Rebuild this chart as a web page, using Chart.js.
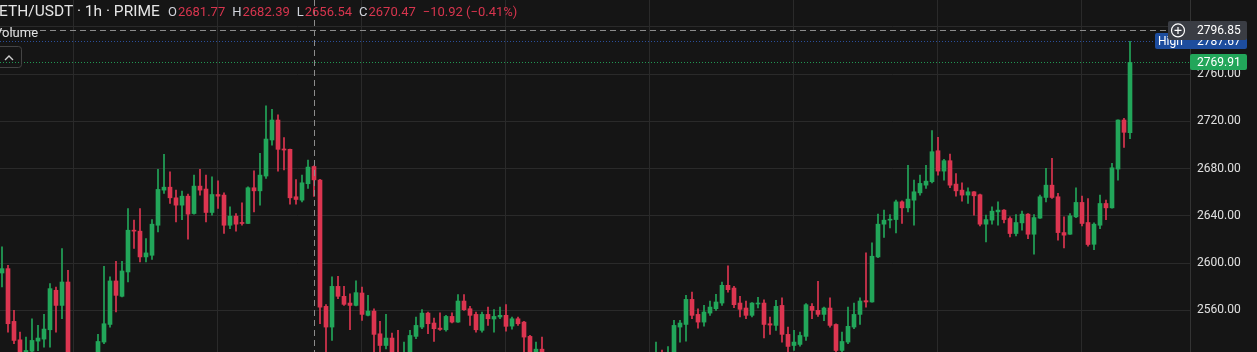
<!DOCTYPE html>
<html>
<head>
<meta charset="utf-8">
<script src="https://cdn.jsdelivr.net/npm/chart.js@4"></script>
<style>
  html, body { margin: 0; padding: 0; background: #151515; overflow: hidden; }
  canvas { display: block; }
</style>
</head>
<body>
<canvas id="c" width="1257" height="352"></canvas>
<script>
// ETH/USDT 1h candles (values below ~2525 are off-screen)
const opens = [
  2591.7, 2595.4, 2550.8, 2535.2, 2520, 2525.6, 2534.1, 2535.8, 2543.7, 2577.1,
  2564.3, 2584.1, 2515, 2506, 2510, 2505, 2514, 2533.3, 2548.2, 2585.0,
  2572.0, 2592.6, 2627.9, 2627.1, 2605.3, 2606.7, 2632.1, 2661.8, 2664.3, 2655.3,
  2649.1, 2656.7, 2642.0, 2665.2, 2662.7, 2642.9, 2658.1, 2657.6, 2632.1, 2639.8,
  2634.4, 2633.6, 2663.8, 2661.2, 2673.7, 2704.2, 2721.1, 2696.6, 2696.3, 2656.2,
  2653.3, 2667.2, 2681.77, 2670.3, 2563.5, 2546.0, 2580.4, 2572.0, 2566.3, 2564.3,
  2574.8, 2555.9, 2559.5, 2540.3, 2530.4, 2536.7, 2521, 2512, 2520, 2538.1,
  2546.0, 2557.8, 2549.4, 2545.1, 2543.7, 2555.0, 2550.2, 2568.0, 2561.5, 2556.7,
  2543.2, 2556.7, 2552.8, 2554.5, 2555.9, 2546.8, 2553.0, 2550.2, 2538.1, 2520,
  2527.3, 2522, 2513, 2506, 2510, 2499, 2504, 2509, 2503, 2493,
  2497, 2502, 2498, 2491, 2495, 2501, 2506, 2511, 2508, 2512,
  2520, 2514, 2518, 2546.0, 2548.2, 2569.4, 2556.7, 2550.2, 2557.8, 2561.5,
  2566.3, 2581.3, 2579.0, 2566.3, 2562.1, 2555.9, 2565.5, 2566.3, 2548.8, 2547.4,
  2564.3, 2539.8, 2530.4, 2531.3, 2538.1, 2563.5, 2560.1, 2556.7, 2562.1, 2548.2,
  2526.2, 2533.3, 2546.0, 2556.7, 2568.3, 2567.2, 2605.3, 2633.0, 2636.4, 2636.9,
  2651.9, 2646.8, 2653.3, 2659.5, 2666.0, 2668.9, 2695.1, 2677.9, 2686.7, 2666.9,
  2661.8, 2657.6, 2660.4, 2657.9, 2633.0, 2636.4, 2643.4, 2644.9, 2637.8, 2625.1,
  2634.1, 2641.5, 2624.5, 2638.1, 2655.6, 2666.0, 2656.2, 2625.9, 2624.5, 2639.2,
  2651.4, 2634.4, 2616.0, 2632.1, 2650.5, 2646.8, 2679.6, 2721.1, 2710.4
];
const highs = [
  2613.8, 2598.2, 2560.1, 2541.7, 2537.5, 2553.0, 2547.4, 2556.7, 2582.7, 2579.9,
  2612.4, 2594.0, 2521, 2514, 2519, 2518, 2539.8, 2597.4, 2588.4, 2601.6,
  2601.6, 2646.3, 2636.4, 2646.3, 2620.8, 2636.9, 2679.3, 2692.0, 2677.3, 2661.8,
  2661.0, 2658.4, 2674.5, 2679.3, 2674.5, 2673.1, 2669.7, 2659.5, 2647.7, 2642.0,
  2651.1, 2664.6, 2678.2, 2692.9, 2733.0, 2730.2, 2725.4, 2706.2, 2696.5, 2670.8,
  2674.5, 2687.2, 2682.39, 2671.0, 2564.9, 2588.4, 2588.9, 2580.4, 2574.2, 2585.0,
  2579.9, 2572.8, 2561.5, 2550.8, 2556.7, 2540.9, 2543.2, 2533.3, 2543.2, 2554.5,
  2560.7, 2558.7, 2553.6, 2558.1, 2555.9, 2558.1, 2573.4, 2573.4, 2563.5, 2558.7,
  2558.7, 2562.9, 2560.7, 2562.9, 2564.9, 2554.5, 2554.5, 2550.8, 2539, 2533.3,
  2537.5, 2524, 2518, 2514, 2516, 2508, 2512, 2515, 2507, 2501,
  2506, 2511, 2504, 2499, 2505, 2510, 2515, 2518, 2517, 2533.3,
  2526.6, 2529.5, 2551.6, 2551.6, 2572.8, 2575.6, 2561.5, 2564.3, 2568.0, 2573.7,
  2584.1, 2597.7, 2580.4, 2572.0, 2568.0, 2566.6, 2571.1, 2569.1, 2554.5, 2568.5,
  2570.8, 2546.0, 2543.2, 2541.7, 2565.8, 2565.8, 2584.7, 2562.9, 2570.8, 2548.8,
  2541.7, 2562.9, 2566.3, 2570.8, 2608.7, 2617.2, 2641.5, 2644.9, 2641.2, 2653.3,
  2652.8, 2682.7, 2670.3, 2674.5, 2682.7, 2712.1, 2706.4, 2687.8, 2692.3, 2675.9,
  2668.0, 2663.8, 2660.5, 2658.4, 2640.6, 2647.7, 2651.9, 2645.4, 2639.2, 2641.2,
  2644.0, 2642.0, 2641.2, 2657.6, 2680.2, 2688.6, 2659.0, 2639.2, 2642.0, 2663.8,
  2656.7, 2654.7, 2634.1, 2657.6, 2653.3, 2684.4, 2721.3, 2722.5, 2787.67
];
const lows = [
  2579.9, 2541.7, 2531.9, 2515, 2512, 2521, 2526, 2529.0, 2529.0, 2541.7,
  2553.0, 2508, 2500, 2496, 2502, 2499, 2508, 2531.9, 2546.0, 2558.7,
  2571.5, 2584.1, 2612.4, 2601.1, 2601.1, 2603.3, 2626.5, 2659.0, 2650.5, 2635.0,
  2636.9, 2620.3, 2641.5, 2657.6, 2635.0, 2640.6, 2646.3, 2625.1, 2629.3, 2627.1,
  2632.1, 2633.4, 2643.4, 2649.1, 2671.7, 2699.9, 2677.9, 2678.8, 2649.9, 2649.9,
  2651.9, 2663.2, 2656.54, 2548.8, 2522, 2534.7, 2570.0, 2564.3, 2543.7, 2563.8,
  2551.6, 2555.5, 2522, 2522, 2527.6, 2515, 2506, 2508, 2516, 2536.1,
  2544.6, 2540.3, 2533.8, 2543.2, 2542.6, 2549.4, 2549.9, 2560.1, 2547.4, 2541.7,
  2541.7, 2547.4, 2541.7, 2553.0, 2542.6, 2544.3, 2547.4, 2522, 2515, 2516,
  2518, 2510, 2502, 2498, 2496, 2490, 2497, 2500, 2488, 2484,
  2491, 2495, 2486, 2482, 2490, 2496, 2500, 2504, 2502, 2508,
  2510, 2510, 2514, 2533.3, 2534.1, 2553.0, 2545.1, 2546.8, 2555.9, 2560.1,
  2564.3, 2575.6, 2562.3, 2554.5, 2553.0, 2554.5, 2562.1, 2536.9, 2539.8, 2543.2,
  2533.3, 2522, 2526.2, 2529.9, 2534.7, 2553.0, 2555.0, 2551.3, 2546.0, 2522,
  2523, 2531.9, 2544.6, 2548.2, 2562.9, 2567.0, 2604.7, 2621.7, 2629.9, 2625.6,
  2633.6, 2643.4, 2632.1, 2657.6, 2663.2, 2668.0, 2674.5, 2670.3, 2663.8, 2656.7,
  2652.5, 2650.5, 2640.6, 2631.6, 2618.0, 2633.0, 2632.1, 2634.1, 2622.3, 2623.1,
  2627.9, 2620.8, 2607.6, 2637.8, 2651.9, 2654.7, 2619.4, 2612.9, 2624.3, 2638.6,
  2631.6, 2614.3, 2611.5, 2629.3, 2636.9, 2646.6, 2670.3, 2698.0, 2705.3
];
const closes = [
  2595.4, 2548.8, 2534.7, 2522, 2526.2, 2534.7, 2536.7, 2544.3, 2578.5, 2564.3,
  2584.1, 2515, 2506, 2510, 2505, 2514, 2533.8, 2548.8, 2585.0, 2572.8,
  2593.4, 2627.9, 2627.1, 2605.3, 2608.7, 2633.0, 2662.4, 2664.3, 2655.3, 2649.1,
  2656.7, 2641.5, 2665.2, 2661.8, 2642.9, 2658.1, 2656.7, 2632.1, 2639.8, 2633.0,
  2633.6, 2663.8, 2661.2, 2674.5, 2705.0, 2721.1, 2696.3, 2695.7, 2655.3, 2653.9,
  2668.0, 2681.3, 2670.47, 2562.9, 2546.0, 2580.4, 2572.0, 2565.2, 2564.3, 2575.1,
  2556.7, 2559.5, 2539.8, 2530.4, 2536.7, 2520, 2512, 2520, 2538.9, 2547.4,
  2557.8, 2548.8, 2544.6, 2544.0, 2555.0, 2550.2, 2568.0, 2560.7, 2555.9, 2543.7,
  2556.7, 2553.0, 2555.0, 2555.9, 2546.6, 2553.0, 2548.8, 2537.5, 2521, 2527.3,
  2522, 2513, 2506, 2510, 2499, 2504, 2509, 2503, 2493, 2497,
  2502, 2498, 2491, 2495, 2501, 2506, 2511, 2508, 2514, 2520,
  2514, 2521, 2547.4, 2549.4, 2569.4, 2555.9, 2550.2, 2558.7, 2562.9, 2567.2,
  2581.3, 2577.6, 2564.9, 2561.0, 2555.9, 2566.3, 2566.3, 2548.2, 2547.7, 2563.5,
  2539.8, 2529.6, 2533.3, 2538.9, 2564.9, 2560.1, 2556.7, 2562.1, 2547.4, 2526.2,
  2533.8, 2546.6, 2556.7, 2568.0, 2567.2, 2605.9, 2633.0, 2636.4, 2637.2, 2651.9,
  2646.8, 2654.2, 2660.4, 2667.5, 2669.4, 2694.3, 2677.9, 2686.7, 2666.0, 2661.2,
  2657.6, 2660.4, 2657.0, 2633.0, 2636.9, 2644.0, 2644.9, 2636.9, 2625.1, 2634.4,
  2641.5, 2624.5, 2638.6, 2656.2, 2666.0, 2655.6, 2625.9, 2623.7, 2640.1, 2651.4,
  2633.6, 2615.8, 2633.0, 2650.5, 2646.8, 2680.7, 2721.1, 2710.7, 2769.91
];

const priceTicks = [2560, 2600, 2640, 2680, 2720, 2760, 2800];
const dayStarts = [12, 36, 60, 84, 108, 132, 156, 180];   // candle index of each vertical grid line

const crossIndex = 52;        // hovered candle (O/H/L/C shown in header)
const crossPrice = 2796.85;
const changeText = '\u221210.92 (\u22120.41%)';
const highMark = 2787.67;
const lastPrice = 2769.91;

const UP = '#22a65a';
const DOWN = '#dc3550';
const BG = '#151515';
const GRID = '#2a2a2a';
const FONT = 'Roboto, "Noto Sans", sans-serif';

const idx = opens.map((_, i) => i);
const colorOf = c => closes[c.dataIndex] >= opens[c.dataIndex] ? UP : DOWN;

function fmt(v) { return v.toFixed(2); }

const background = {
  id: 'background',
  beforeDraw(chart) {
    const ctx = chart.ctx;
    ctx.save();
    ctx.fillStyle = BG;
    ctx.fillRect(0, 0, chart.width, chart.height);
    ctx.restore();
  }
};

function hline(ctx, y, x0, x1, color, dash) {
  ctx.beginPath();
  ctx.setLineDash(dash);
  ctx.strokeStyle = color;
  ctx.lineWidth = 1;
  y = Math.round(y) + 0.5;
  ctx.moveTo(x0, y);
  ctx.lineTo(x1, y);
  ctx.stroke();
}

function box(ctx, x0, x1, yc, h, color) {
  ctx.fillStyle = color;
  ctx.beginPath();
  ctx.roundRect(x0, Math.round(yc - h / 2), x1 - x0, h, 2);
  ctx.fill();
}

const overlay = {
  id: 'overlay',
  afterDraw(chart) {
    const { ctx, chartArea: a, scales: { x, y } } = chart;
    ctx.save();

    // price lines
    hline(ctx, y.getPixelForValue(lastPrice), 0, a.right, 'rgba(34,166,90,0.9)', [1, 2]);
    hline(ctx, y.getPixelForValue(highMark), 0, 1155, 'rgba(45,85,170,0.9)', [1, 2]);

    // crosshair
    const cx = Math.round(x.getPixelForValue(crossIndex)) + 0.5;
    ctx.beginPath();
    ctx.setLineDash([6, 4]);
    ctx.strokeStyle = '#8c8c8c';
    ctx.moveTo(cx, 0);
    ctx.lineTo(cx, chart.height);
    ctx.stroke();
    hline(ctx, y.getPixelForValue(crossPrice), 0, 1168, '#8c8c8c', [6, 4]);
    ctx.setLineDash([]);

    // right side labels
    ctx.font = '12px ' + FONT;
    ctx.textBaseline = 'middle';
    const yh = y.getPixelForValue(highMark);
    box(ctx, 1155, 1247, yh, 16, '#1d4d9e');
    ctx.fillStyle = '#ffffff';
    ctx.fillText('High', 1158, yh + 1);
    ctx.fillText(fmt(highMark), 1197, yh + 1);

    const yc = y.getPixelForValue(crossPrice);
    box(ctx, 1168, 1247, yc, 19, '#3a3d44');
    ctx.fillStyle = '#ffffff';
    ctx.fillText(fmt(crossPrice), 1197, yc + 1);
    ctx.beginPath();
    ctx.strokeStyle = '#ffffff';
    ctx.lineWidth = 1.2;
    ctx.arc(1178, yc, 6.5, 0, Math.PI * 2);
    ctx.moveTo(1174.5, yc); ctx.lineTo(1181.5, yc);
    ctx.moveTo(1178, yc - 3.5); ctx.lineTo(1178, yc + 3.5);
    ctx.stroke();

    const yl = y.getPixelForValue(lastPrice);
    box(ctx, 1190, 1247, yl, 16, UP);
    ctx.fillStyle = '#ffffff';
    ctx.fillText(fmt(lastPrice), 1197, yl + 1);

    // header
    ctx.textBaseline = 'alphabetic';
    ctx.font = '15.5px ' + FONT;
    ctx.fillStyle = '#e6e6e6';
    ctx.fillText('ETH/USDT \u00b7 1h \u00b7 PRIME', -1, 16);

    ctx.font = '13px ' + FONT;
    const parts = [
      ['O', fmt(opens[crossIndex])], ['H', fmt(highs[crossIndex])],
      ['L', fmt(lows[crossIndex])], ['C', fmt(closes[crossIndex])], ['', changeText]
    ];
    let tx = 168;
    parts.forEach(([k, v]) => {
      if (k) {
        ctx.fillStyle = '#d1d4dc';
        ctx.fillText(k, tx, 16);
        tx += ctx.measureText(k).width + 1;
      }
      ctx.fillStyle = '#d7354e';
      ctx.fillText(v, tx, 16);
      tx += ctx.measureText(v).width + 7;
    });

    ctx.fillStyle = '#e0e0e0';
    ctx.fillText('Volume', -6, 37);

    ctx.beginPath();
    ctx.strokeStyle = '#444444';
    ctx.lineWidth = 1;
    ctx.roundRect(-6.5, 46.5, 28, 21, 3);
    ctx.stroke();
    ctx.beginPath();
    ctx.strokeStyle = '#d0d0d0';
    ctx.lineWidth = 1.4;
    ctx.moveTo(5, 60); ctx.lineTo(9, 56); ctx.lineTo(13, 60);
    ctx.stroke();

    ctx.restore();
  }
};

new Chart(document.getElementById('c'), {
  type: 'bar',
  data: {
    datasets: [
      {
        label: 'wick',
        data: idx.map(i => ({ x: i, y: [lows[i], highs[i]] })),
        backgroundColor: colorOf,
        barThickness: 1,
        minBarLength: 1,
        grouped: false,
        order: 2
      },
      {
        label: 'body',
        data: idx.map(i => ({ x: i, y: [opens[i], closes[i]] })),
        backgroundColor: colorOf,
        barThickness: 4,
        minBarLength: 1,
        grouped: false,
        order: 1
      }
    ]
  },
  options: {
    responsive: false,
    animation: false,
    layout: { padding: 0, autoPadding: false },
    plugins: { legend: { display: false }, tooltip: { enabled: false } },
    scales: {
      x: {
        type: 'linear',
        offset: false,
        min: -0.333,
        max: 198,
        afterBuildTicks: s => { s.ticks = dayStarts.map(v => ({ value: v })); },
        afterFit: s => { s.height = 0; s.paddingLeft = 0; s.paddingRight = 0; },
        ticks: { display: false },
        grid: { color: GRID, drawTicks: false, offset: false },
        border: { display: false }
      },
      y: {
        position: 'right',
        min: 2524.9,
        max: 2822.6,
        afterBuildTicks: s => { s.ticks = priceTicks.map(v => ({ value: v })); },
        afterFit: s => { s.width = 67; s.paddingTop = 0; s.paddingBottom = 0; },
        ticks: {
          callback: v => fmt(v),
          color: '#e0e0e0',
          font: { family: FONT, size: 12 },
          padding: 7
        },
        grid: { color: GRID, drawTicks: false },
        border: { color: '#333333' }
      }
    }
  },
  plugins: [background, overlay]
});
</script>
</body>
</html>
